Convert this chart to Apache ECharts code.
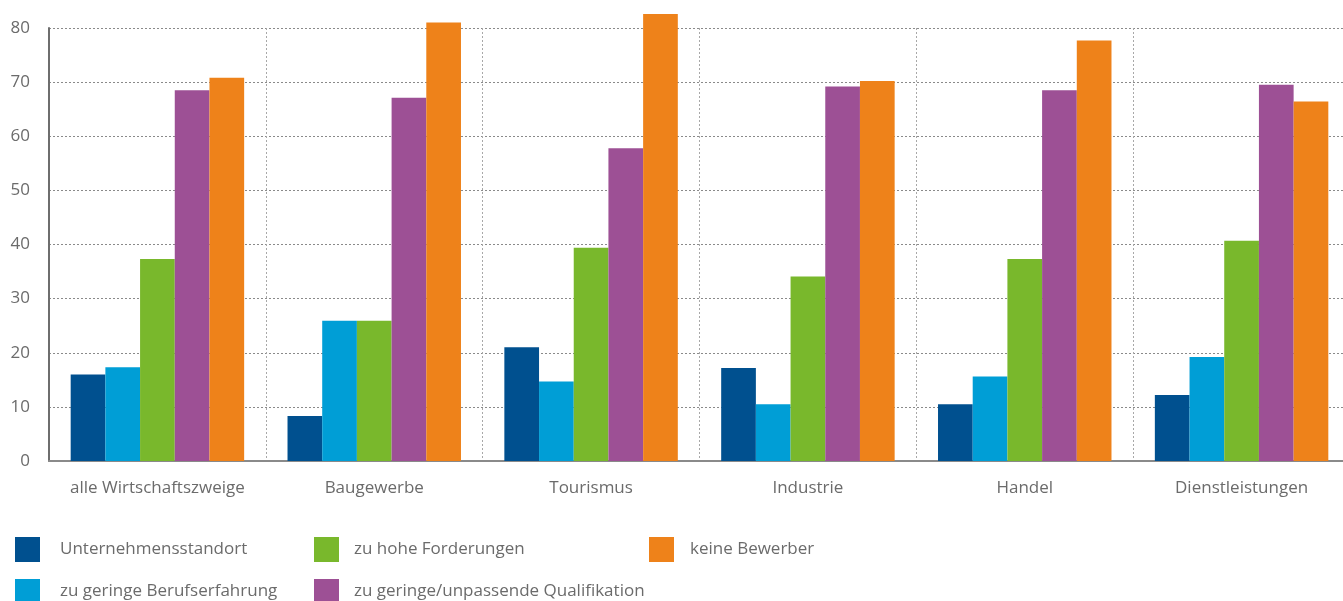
<!DOCTYPE html>
<html lang="de">
<head>
<meta charset="utf-8">
<title>Gründe für Besetzungsschwierigkeiten nach Wirtschaftszweigen</title>
<script src="https://cdn.jsdelivr.net/npm/echarts@6/dist/echarts.min.js"></script>
<style>
  html, body { margin: 0; padding: 0; background: #fff; overflow: hidden; }
  /* slightly wider than the window so the last category runs off the right edge */
  #chart { width: 1350px; height: 601px; }
</style>
</head>
<body>
<div id="chart"></div>
<script>
// Branchen (Kategorien der x-Achse)
const categories = ['alle Wirtschaftszweige', 'Baugewerbe', 'Tourismus', 'Industrie', 'Handel', 'Dienstleistungen'];

// Anteile in Prozent je Grund
const unternehmensstandort = [16.0, 8.3, 21.0, 17.2, 10.5, 12.2];
const geringeBerufserfahrung = [17.3, 25.9, 14.7, 10.5, 15.6, 19.2];
const hoheForderungen = [37.3, 25.9, 39.4, 34.1, 37.3, 40.7];
const unpassendeQualifikation = [68.5, 67.1, 57.8, 69.2, 68.5, 69.5];
const keineBewerber = [70.8, 81.0, 82.6, 70.2, 77.7, 66.4];

// Beschriftungen der y-Achse
const yTicks = [0, 10, 20, 30, 40, 50, 60, 70, 80];

const seriesDefs = [
  { name: 'Unternehmensstandort', data: unternehmensstandort, color: '#00508f' },
  { name: 'zu geringe Berufserfahrung', data: geringeBerufserfahrung, color: '#009ed6' },
  { name: 'zu hohe Forderungen', data: hoheForderungen, color: '#79b82c' },
  { name: 'zu geringe/unpassende Qualifikation', data: unpassendeQualifikation, color: '#9d5095' },
  { name: 'keine Bewerber', data: keineBewerber, color: '#ee821a' }
];

// Legendenraster: drei Spalten, zwei Zeilen
const legendSlots = [
  { left: 15, top: 537, textGap: 15 },
  { left: 15, top: 579, textGap: 15 },
  { left: 314, top: 537, textGap: 10 },
  { left: 314, top: 579, textGap: 10 },
  { left: 649, top: 537, textGap: 11 }
];

const textColor = '#6b6b6b';
const fontFamily = '"Open Sans", "Noto Sans", sans-serif';

const chart = echarts.init(document.getElementById('chart'), null, { renderer: 'canvas' });

chart.setOption({
  animation: false,
  textStyle: { fontFamily: fontFamily },
  grid: { left: 49, right: 0, top: 28, bottom: 140, containLabel: false },
  legend: seriesDefs.map(function (s, i) {
    return {
      left: legendSlots[i].left,
      top: legendSlots[i].top,
      padding: 0,
      itemWidth: 25,
      itemHeight: 25,
      icon: 'rect',
      selectedMode: false,
      data: [s.name],
      textStyle: { color: textColor, fontSize: 17, fontFamily: fontFamily, padding: [0, 0, 0, legendSlots[i].textGap] }
    };
  }),
  xAxis: {
    type: 'category',
    data: categories,
    boundaryGap: true,
    axisLine: { show: true, lineStyle: { color: '#8a8a8a', width: 2 } },
    axisTick: { show: false },
    axisLabel: { color: textColor, fontSize: 17, margin: 19, interval: 0 },
    splitLine: { show: true, lineStyle: { color: '#a8a8a8', type: [2, 2], width: 1 } }
  },
  yAxis: {
    type: 'value',
    min: 0,
    max: 80,
    interval: 10,
    axisLine: { show: true, lineStyle: { color: '#6e6e6e', width: 2 } },
    axisTick: { show: false },
    axisLabel: {
      color: textColor,
      fontSize: 17,
      margin: 19,
      formatter: function (v) { return yTicks.indexOf(v) >= 0 ? String(v) : ''; }
    },
    splitLine: { show: true, lineStyle: { color: '#8a8a8a', type: [2, 2], width: 1 } }
  },
  series: seriesDefs.map(function (s) {
    return {
      name: s.name,
      type: 'bar',
      data: s.data,
      clip: false,
      barGap: '0%',
      barCategoryGap: '20%',
      itemStyle: { color: s.color },
      emphasis: { disabled: true }
    };
  })
});
</script>
</body>
</html>
